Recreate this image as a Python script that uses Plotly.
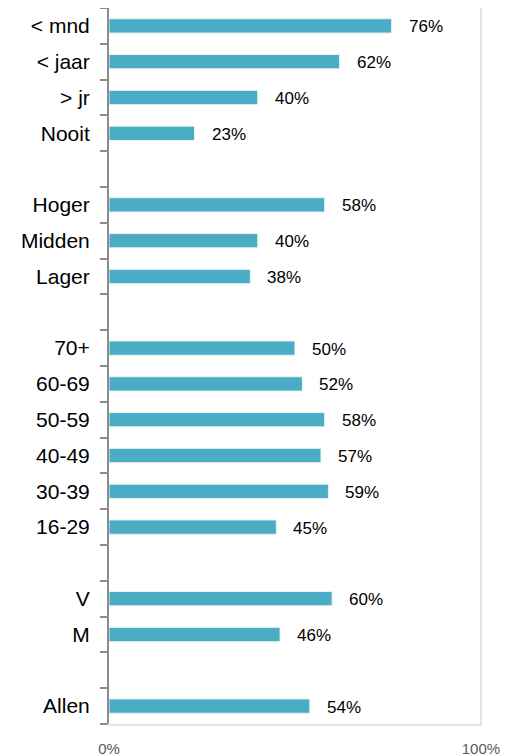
import plotly.graph_objects as go

categories = ["< mnd", "< jaar", "> jr", "Nooit", " ",
              "Hoger", "Midden", "Lager", "  ",
              "70+", "60-69", "50-59", "40-49", "30-39", "16-29", "   ",
              "V", "M", "    ", "Allen"]
values = [0.76, 0.62, 0.40, 0.23, None,
          0.58, 0.40, 0.38, None,
          0.50, 0.52, 0.58, 0.57, 0.59, 0.45, None,
          0.60, 0.46, None, 0.54]
x_tickvals = [0, 1]
x_ticktext = ["0%", "100%"]

FONT = "Liberation Sans"

fig = go.Figure()
fig.add_trace(go.Bar(
    y=categories, x=values, orientation="h",
    marker=dict(color="#4bacc6", line=dict(color="#e8f4f8", width=1)),
    hoverinfo="skip",
))

for c, v in zip(categories, values):
    if v is None:
        continue
    fig.add_annotation(x=v, y=c, text=f"{round(v*100)}%", showarrow=False,
                       xanchor="left", xshift=15, yshift=-1,
                       font=dict(family=FONT, size=17, color="#000000"))

# the page body has an 8px margin, so the figure is sized/placed to compensate
fig.update_layout(
    width=500, height=748,
    margin=dict(l=101, r=26, t=0, b=32),
    plot_bgcolor="white", paper_bgcolor="white",
    bargap=0.6, showlegend=False,
    font=dict(family=FONT, color="#000000"),
)
fig.update_xaxes(range=[0, 1.003], tickvals=x_tickvals, ticktext=x_ticktext,
                 showgrid=True, gridcolor="#dce6f2", gridwidth=2,
                 showline=True, linecolor="#dce6f2", linewidth=2,
                 zeroline=False, ticks="", automargin=False,
                 ticklabelstandoff=10,
                 tickfont=dict(family=FONT, size=15, color="#595959"), fixedrange=True)
fig.update_yaxes(categoryorder="array", categoryarray=categories[::-1],
                 showline=True, linecolor="#8c8c8c", linewidth=2,
                 ticks="outside", tickson="boundaries", ticklen=7,
                 tickcolor="#8c8c8c", tickwidth=2,
                 showgrid=False, zeroline=False, automargin=False,
                 tickfont=dict(family=FONT, size=21, color="#000000"), ticklabelstandoff=13)

fig.write_html("out.html")
